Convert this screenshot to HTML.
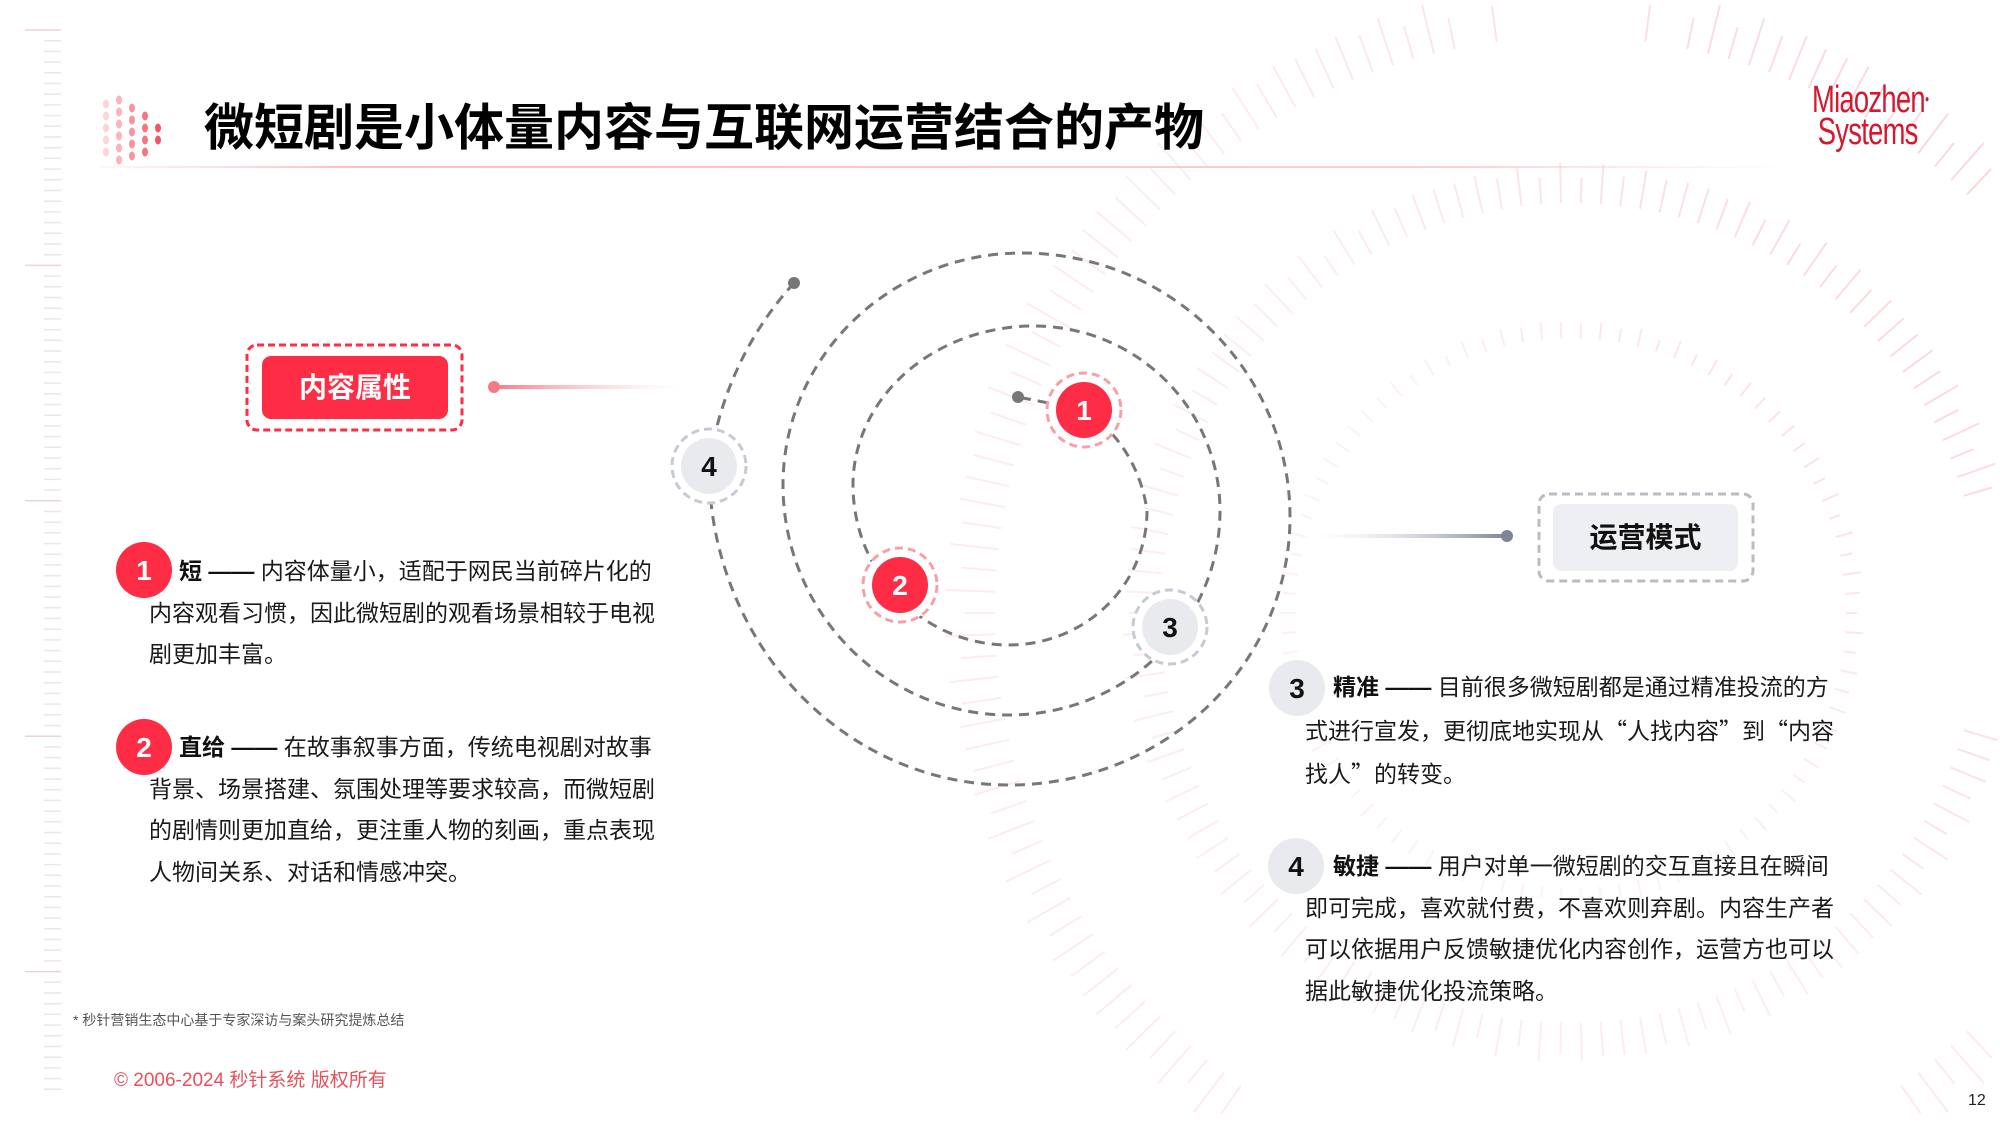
<!DOCTYPE html>
<html><head><meta charset="utf-8">
<style>
html,body{margin:0;padding:0;width:2000px;height:1125px;overflow:hidden;}
body{position:relative;background:#fff;font-family:"Liberation Sans","Noto Sans CJK SC",sans-serif;color:#111;}
.abs{position:absolute;white-space:nowrap;}
.txt{font-size:23px;line-height:41.5px;color:#1a1a1a;}
.txt b{font-weight:700;color:#111;}
.q{font-family:"Noto Sans CJK SC",sans-serif;}
svg{position:absolute;left:0;top:0;overflow:hidden;}
</style></head>
<body>
<svg id="bg" width="2000" height="1125" viewBox="0 0 2000 1125">
<defs>
<linearGradient id="tl" x1="0" x2="1" y1="0" y2="0">
<stop offset="0" stop-color="#f7b3b8" stop-opacity="0.1"/>
<stop offset="0.15" stop-color="#f7a3aa" stop-opacity="0.7"/>
<stop offset="0.8" stop-color="#f8b0b6" stop-opacity="0.6"/>
<stop offset="1" stop-color="#fbd0d3" stop-opacity="0"/>
</linearGradient>
<linearGradient id="pl" x1="0" x2="1"><stop offset="0" stop-color="#f47b85"/><stop offset="1" stop-color="#fbd6d9" stop-opacity="0"/></linearGradient>
<linearGradient id="gl" x1="0" x2="1"><stop offset="0" stop-color="#dfe1e6" stop-opacity="0"/><stop offset="1" stop-color="#7d8596"/></linearGradient>
</defs>
<g id="ruler"></g>
<g id="rings"></g>
<g id="logo"></g>
<rect x="100" y="166" width="1700" height="2" fill="url(#tl)"/>
<rect x="494" y="385" width="190" height="4" fill="url(#pl)"/>
<circle cx="494" cy="387" r="6" fill="#f47b85"/>
<rect x="1315" y="534" width="192" height="4" fill="url(#gl)"/>
<circle cx="1507" cy="536" r="6" fill="#7d8596"/>
<path d="M794 283 A300 330 0 0 0 709 466
 A300 319 0 0 0 1009 785
 A281 268 0 0 0 1290 517
 A268 264 0 0 0 1022 253
 A239 232 0 0 0 783 485
 A226 230 0 0 0 1009 715
 A211 204 0 0 0 1220 511
 A186 185 0 0 0 1034 326
 A181 159 0 0 0 853 485
 A156 160 0 0 0 1009 645
 A138 134 0 0 0 1147 511
 A130 140 0 0 0 1084 410 L1018 397" fill="none" stroke="#777" stroke-width="3" stroke-dasharray="10 7"/>
<circle cx="794" cy="283" r="6" fill="#777"/>
<circle cx="1018" cy="397" r="6" fill="#777"/>
<g font-family="Liberation Sans, sans-serif" font-weight="700" font-size="28" text-anchor="middle">
<circle cx="1084" cy="410" r="37" fill="#fff" stroke="#f8a0a6" stroke-width="3" stroke-dasharray="8 5"/>
<circle cx="1084" cy="410" r="28" fill="#fe2c44"/>
<text x="1084" y="420" fill="#fff">1</text>
<circle cx="900" cy="585" r="37" fill="#fff" stroke="#f8a0a6" stroke-width="3" stroke-dasharray="8 5"/>
<circle cx="900" cy="585" r="28" fill="#fe2c44"/>
<text x="900" y="595" fill="#fff">2</text>
<circle cx="1170" cy="627" r="37" fill="#fff" stroke="#c5cad3" stroke-width="3" stroke-dasharray="8 5"/>
<circle cx="1170" cy="627" r="28" fill="#e9eaee"/>
<text x="1170" y="637" fill="#111">3</text>
<circle cx="709" cy="466" r="37" fill="#fff" stroke="#c5cad3" stroke-width="3" stroke-dasharray="8 5"/>
<circle cx="709" cy="466" r="28" fill="#e9eaee"/>
<text x="709" y="476" fill="#111">4</text>
<circle cx="144" cy="570" r="28" fill="#fe2c44"/>
<text x="144" y="580" fill="#fff">1</text>
<circle cx="144" cy="747" r="28" fill="#fe2c44"/>
<text x="144" y="757" fill="#fff">2</text>
<circle cx="1297" cy="688" r="28" fill="#e9eaee"/>
<text x="1297" y="698" fill="#111">3</text>
<circle cx="1296" cy="866" r="28" fill="#e9eaee"/>
<text x="1296" y="876" fill="#111">4</text>
</g>
<rect x="247" y="345" width="215" height="85" rx="10" fill="#fff" stroke="#fe2c44" stroke-width="3" stroke-dasharray="7 4"/>
<rect x="262" y="356" width="186" height="63" rx="9" fill="#fe2c44"/>
<rect x="1539" y="494" width="214" height="87" rx="10" fill="#fff" stroke="#b9bcc3" stroke-width="3" stroke-dasharray="8 5"/>
<rect x="1553" y="504" width="185" height="67" rx="9" fill="#eeeff2"/>
</svg>

<div class="abs" style="left:204px;top:96px;font-size:50px;font-weight:700;line-height:64px;color:#000;">微短剧是小体量内容与互联网运营结合的产物</div>

<div class="abs" style="left:1812px;top:84px;color:#d3192f;font-family:'Liberation Sans Narrow','Liberation Sans',sans-serif;font-size:38px;line-height:32px;letter-spacing:-1px;transform:scaleX(0.72);transform-origin:left top;">Miaozhen<span style="font-size:10px;vertical-align:top;">●</span><br><span style="padding-left:8px;">Systems</span></div>

<div class="abs" style="left:262px;top:356px;width:186px;height:63px;line-height:63px;text-align:center;color:#fff;font-size:28px;font-weight:700;">内容属性</div>
<div class="abs" style="left:1553px;top:504px;width:185px;height:67px;line-height:67px;text-align:center;color:#111;font-size:28px;font-weight:700;">运营模式</div>

<div class="abs txt" style="left:149px;top:551px;text-indent:30px;"><b>短</b> <b>——</b> 内容体量小，适配于网民当前碎片化的<br>内容观看习惯，因此微短剧的观看场景相较于电视<br>剧更加丰富。</div>

<div class="abs txt" style="left:149px;top:727px;text-indent:30px;"><b>直给</b> <b>——</b> 在故事叙事方面，传统电视剧对故事<br>背景、场景搭建、氛围处理等要求较高，而微短剧<br>的剧情则更加直给，更注重人物的刻画，重点表现<br>人物间关系、对话和情感冲突。</div>

<div class="abs txt" style="left:1305px;top:667px;text-indent:28px;"><b>精准</b> <b>——</b> 目前很多微短剧都是通过精准投流的方<br>式进行宣发，更彻底地实现从<span class="q">“</span>人找内容<span class="q">”</span>到<span class="q">“</span>内容<br>找人<span class="q">”</span>的转变。</div>

<div class="abs txt" style="left:1305px;top:846px;text-indent:28px;"><b>敏捷</b> <b>——</b> 用户对单一微短剧的交互直接且在瞬间<br>即可完成，喜欢就付费，不喜欢则弃剧。内容生产者<br>可以依据用户反馈敏捷优化内容创作，运营方也可以<br>据此敏捷优化投流策略。</div>

<div class="abs" style="left:73px;top:1010px;font-size:14px;color:#555;">* 秒针营销生态中心基于专家深访与案头研究提炼总结</div>
<div class="abs" style="left:114px;top:1065px;font-size:19px;color:#e8505b;">© 2006-2024 秒针系统 版权所有</div>
<div class="abs" style="left:1968px;top:1091px;font-size:16px;line-height:20px;color:#222;">12</div>

<script>
(function(){
var NS="http://www.w3.org/2000/svg";
function el(t,a,p){var e=document.createElementNS(NS,t);for(var k in a)e.setAttribute(k,a[k]);p.appendChild(e);return e;}
var r=document.getElementById('ruler');
for(var y=30;y<1095;y+=10.7){var i=Math.round((y-30)/10.7);var long=(i%22==0);
el('line',{x1:long?25:44,x2:61,y1:y,y2:y,stroke:long?'#ecd3d6':'#ece6e7','stroke-width':1.5},r);}
var g=document.getElementById('rings');
var cx=1571,cy=613;
var rings=[[275,18,0.22,90],[410,40,0.28,130],[576,50,0.3,170]];
rings.forEach(function(R){
for(var k=0;k<R[3];k++){var a=k/R[3]*Math.PI*2;var len=R[1]*(0.6+0.4*Math.abs(Math.sin(k*1.7)));
var x1=cx+Math.cos(a)*R[0],y1=cy+Math.sin(a)*R[0],x2=cx+Math.cos(a)*(R[0]+len),y2=cy+Math.sin(a)*(R[0]+len);
if(Math.max(y1,y2)>1122||Math.min(y1,y2)<2||Math.max(x1,x2)>1998)continue;
var op=R[2]*(0.5+0.5*Math.max(0,Math.cos(a-(-0.6))));
el('line',{x1:x1,y1:y1,x2:x2,y2:y2,stroke:'#ef7f8a','stroke-width':2,'stroke-opacity':op},g);}
});
var l=document.getElementById('logo');
var cols=[[106,[104,116,128,140,152]],[119,[100,112,124,136,148,160]],[132,[108,120,132,144,156]],[145,[116,128,140,152]],[158,[128,140]]];
cols.forEach(function(c,ci){c[1].forEach(function(yy){el('ellipse',{cx:c[0],cy:yy,rx:3,ry:4.5,fill:'#f4505e','fill-opacity':0.25+0.18*ci},l);});});
})();
</script>
</body></html>
